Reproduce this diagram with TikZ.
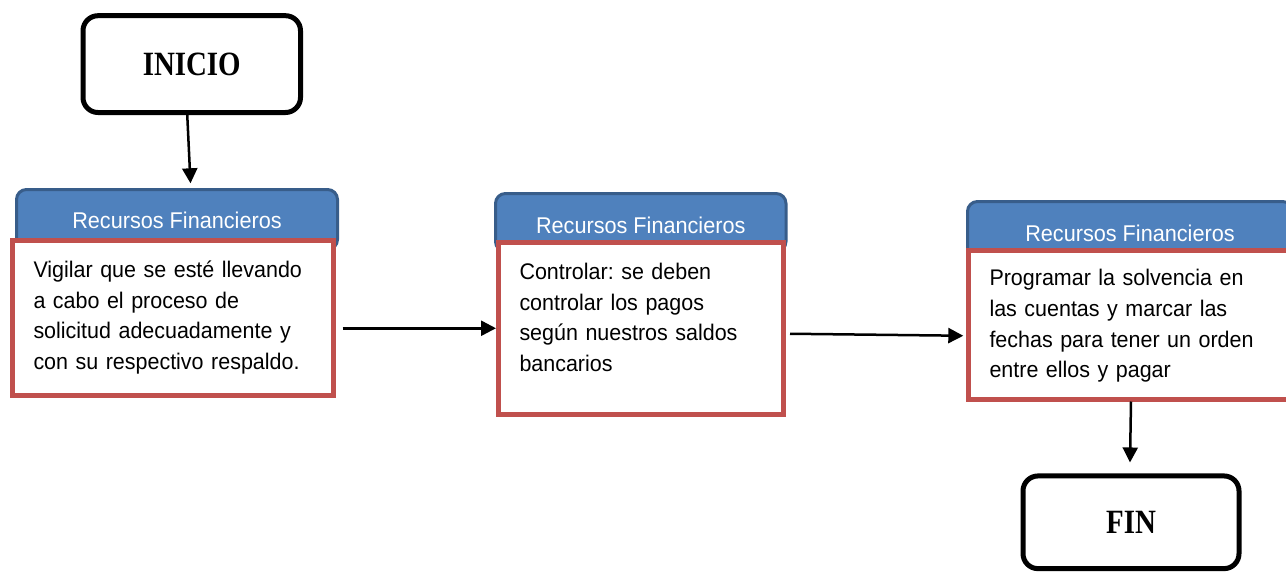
\documentclass[tikz,border=0pt]{standalone}
\usepackage{fontspec}
\setmainfont{Liberation Sans}
\newfontfamily\narrowfont[FakeStretch=0.95]{Liberation Sans}
\newfontfamily\termfont{Liberation Serif}
\usepackage{graphicx}
\usetikzlibrary{arrows.meta,calc}
\definecolor{hdrfill}{HTML}{4F81BD}
\definecolor{hdrdraw}{HTML}{385D8A}
\definecolor{boxred}{HTML}{C0504D}
\tikzset{
  term/.style={draw=black, line width=5pt, rounded corners=15pt, fill=white,
    font=\termfont\bfseries\fontsize{34}{40}\selectfont, inner sep=0pt},
  hdr/.style={draw=hdrdraw, line width=3pt, fill=hdrfill, rounded corners=10pt,
    text=white, font=\narrowfont\fontsize{22.8}{26}\selectfont, inner xsep=0pt, inner ysep=0pt,
    anchor=north west},
  body/.style={draw=boxred, line width=5pt, fill=white, align=left,
    font=\narrowfont\fontsize{22.6}{30.7}\selectfont, inner xsep=21pt, inner ysep=0pt,
    anchor=north west},
  arr/.style={-{Triangle[length=15pt,width=15pt]}, line width=2.5pt, draw=black},
}
\frenchspacing
\begin{document}
\begin{tikzpicture}[x=1pt,y=-1pt]
\useasboundingbox (0,0) rectangle (1286,571);
\clip (0,0) rectangle (1286,571);
\fill[white] (0,0) rectangle (1286,571);

% terminals
\node[term, minimum width=217.5pt, minimum height=96.8pt] (ini) at (191.75,64.1) {\scalebox{0.85}[1]{INICIO}};
\node[term, minimum width=216pt, minimum height=92.7pt] (fin) at (1131,522.3) {\scalebox{0.85}[1]{FIN}};

% headers
\node[hdr, minimum width=321pt, text height=39.3pt, text depth=20.7pt] (h1) at (15,188) {Recursos Financieros};
\node[hdr, minimum width=290.5pt, text height=39.7pt, text depth=18.3pt] (h2) at (494,192) {Recursos Financieros};
\node[hdr, minimum width=325pt, text height=40pt, text depth=18pt] (h3) at (966,200) {Recursos Financieros};

% bodies
\node[body, text width=278.5pt, text height=37.5pt, text depth=117.5pt] (b1) at (10,237.5)
  {\frenchspacing Vigilar que se esté llevando\\a cabo el proceso de\\solicitud adecuadamente y\\con su respectivo respaldo.};
\node[body, text width=243pt, text height=37pt, text depth=134.5pt] (b2) at (496,240)
  {\frenchspacing Controlar: se deben\\controlar los pagos\\según nuestros saldos\\bancarios};
\node[body, text width=283pt, text height=35.3pt, text depth=113.2pt] (b3) at (966,248)
  {\frenchspacing Programar la solvencia en\\las cuentas y marcar las\\fechas para tener un orden\\entre ellos y pagar};

% connectors
\draw[arr] ([xshift=-4.5pt]ini.south) -- ([xshift=13.5pt,yshift=4.7pt]h1.north);
\draw[arr] ([xshift=7pt]b1.east |- b2.west) -- (b2.west);
\draw[arr] ([xshift=4pt,yshift=-5.5pt]b2.east) -- ([xshift=-2.7pt,yshift=-11pt]b3.west);
\draw[arr] (b3.south) -- ([xshift=-1pt,yshift=11pt]fin.north);
\end{tikzpicture}
\end{document}
